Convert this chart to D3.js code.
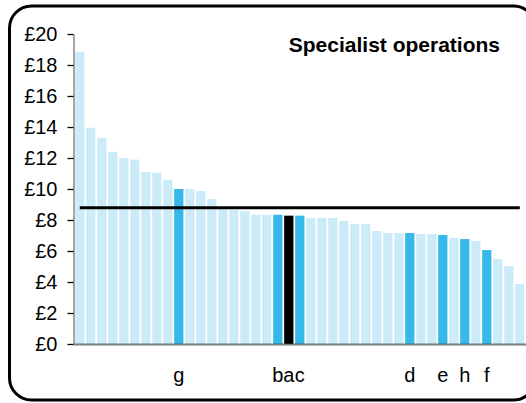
<!DOCTYPE html>
<html>
<head>
<meta charset="utf-8">
<script src="https://cdn.jsdelivr.net/npm/d3@7"></script>
<style>
  html, body { margin: 0; padding: 0; background: #fff; }
  svg { display: block; font-family: "Liberation Sans", Arial, sans-serif; }
</style>
</head>
<body>
<svg id="chart" width="526" height="403"></svg>
<script>
// Hourly cost per provider, sorted from highest to lowest
const values = [18.85, 13.95, 13.3, 12.4, 12.0, 11.9, 11.1, 11.05, 10.6, 10.0,
                10.0, 9.87, 9.35, 8.7, 8.65, 8.58, 8.34, 8.34, 8.34, 8.28,
                8.28, 8.13, 8.13, 8.13, 7.94, 7.74, 7.74, 7.29, 7.16, 7.16,
                7.16, 7.1, 7.1, 7.03, 6.84, 6.77, 6.65, 6.06, 5.48, 5.03, 3.87];
// Named providers shown under the axis
const labels = ["", "", "", "", "", "", "", "", "", "g",
                "", "", "", "", "", "", "", "", "b", "a",
                "c", "", "", "", "", "", "", "", "", "",
                "d", "", "", "e", "", "h", "", "f", "", "", ""];
// Average across all providers
const average = 8.79;
const yTicks = [0, 2, 4, 6, 8, 10, 12, 14, 16, 18, 20];
const title = "Specialist operations";

const svg = d3.select("#chart");
const idx = d3.range(values.length);

// Rounded frame
svg.append("rect")
  .attr("x", 9.5).attr("y", 6)
  .attr("width", 526).attr("height", 394)
  .attr("rx", 22).attr("ry", 22)
  .attr("fill", "#fff")
  .attr("stroke", "#000").attr("stroke-width", 3);

const x = d3.scaleBand()
  .domain(idx)
  .range([74.3, 525.3])
  .paddingInner(0.16)
  .paddingOuter(0.08);

const y = d3.scaleLinear().domain([0, 20]).range([344, 34]);

const colour = i => labels[i] === "a" ? "#000000"
                  : labels[i] !== "" ? "#35b9e9" : "#ccebf8";

svg.append("g").selectAll("rect")
  .data(idx)
  .join("rect")
  .attr("x", i => x(i))
  .attr("y", i => y(values[i]))
  .attr("width", x.bandwidth())
  .attr("height", i => y(0) - y(values[i]))
  .attr("fill", colour);

// Average line, drawn from first to last category centre
const line = d3.line()
  .x(i => x(i) + x.bandwidth() / 2)
  .y(() => y(average));
svg.append("path")
  .datum(idx)
  .attr("d", line)
  .attr("fill", "none")
  .attr("stroke", "#000")
  .attr("stroke-width", 3);

// Y axis
const yAxis = d3.axisLeft(y)
  .tickValues(yTicks)
  .tickFormat(d => "£" + d)
  .tickSize(6)
  .tickSizeOuter(0)
  .tickPadding(10);
const gy = svg.append("g")
  .attr("transform", "translate(73.5,0)")
  .call(yAxis);
gy.select(".domain").attr("stroke", "#888").attr("stroke-width", 1.5);
gy.selectAll(".tick line").attr("stroke", "#000").attr("stroke-width", 1.3);
gy.selectAll(".tick text")
  .attr("fill", "#000")
  .style("font-size", "20px")
  .style("font-family", "'Liberation Sans', Arial, sans-serif");

// X axis with provider labels
const xAxis = d3.axisBottom(x)
  .tickFormat(i => labels[i])
  .tickSize(0)
  .tickSizeOuter(0)
  .tickPadding(24);
const gx = svg.append("g")
  .attr("transform", "translate(0,344)")
  .call(xAxis);
gx.select(".domain").remove();
gx.selectAll(".tick text")
  .attr("fill", "#000")
  .style("font-size", "20px")
  .style("font-family", "'Liberation Sans', Arial, sans-serif");

svg.append("line")
  .attr("x1", 73.5).attr("x2", 526)
  .attr("y1", 344.5).attr("y2", 344.5)
  .attr("stroke", "#4a5559")
  .attr("stroke-opacity", 0.75)
  .attr("stroke-width", 2);

svg.append("text")
  .attr("x", 500).attr("y", 51.5)
  .attr("text-anchor", "end")
  .style("font-size", "21px")
  .style("font-weight", "bold")
  .attr("fill", "#000")
  .text(title);
</script>
</body>
</html>
